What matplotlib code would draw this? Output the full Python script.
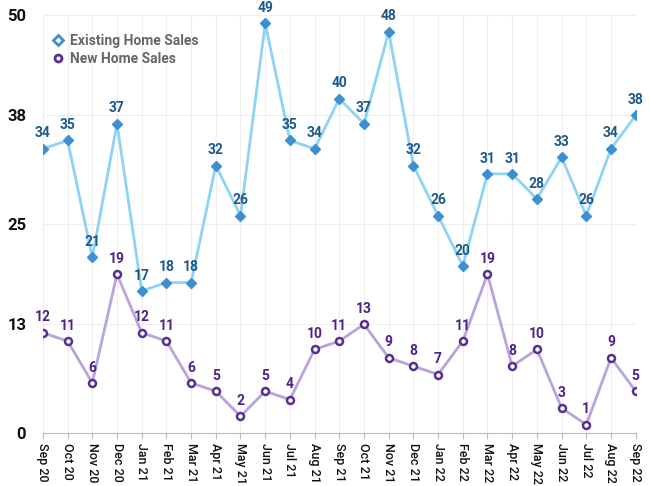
import matplotlib.pyplot as plt

months = ['Sep 20', 'Oct 20', 'Nov 20', 'Dec 20', 'Jan 21', 'Feb 21', 'Mar 21', 'Apr 21',
          'May 21', 'Jun 21', 'Jul 21', 'Aug 21', 'Sep 21', 'Oct 21', 'Nov 21', 'Dec 21',
          'Jan 22', 'Feb 22', 'Mar 22', 'Apr 22', 'May 22', 'Jun 22', 'Jul 22', 'Aug 22', 'Sep 22']
existing = [34, 35, 21, 37, 17, 18, 18, 32, 26, 49, 35, 34, 40, 37, 48, 32, 26, 20, 31, 31, 28, 33, 26, 34, 38]
new_sales = [12, 11, 6, 19, 12, 11, 6, 5, 2, 5, 4, 10, 11, 13, 9, 8, 7, 11, 19, 8, 10, 3, 1, 9, 5]
yticks = [0, 13, 25, 38, 50]

plt.rcParams['font.family'] = ['Roboto', 'DejaVu Sans']

fig = plt.figure(figsize=(6.5, 4.86), dpi=100)
ax = fig.add_axes([0.066, 0.109, 0.912, 0.86])
x = list(range(len(months)))

ax.plot(x, existing, color='#8fd3f4', lw=2, zorder=2)
ax.plot(x, existing, ls='none', marker='D', ms=5.5, color='#3d8fd4', zorder=3)
ax.plot(x, new_sales, color='#b9a3dc', lw=2, zorder=2)
ax.plot(x, new_sales, ls='none', marker='o', ms=5, mfc='white', mec='#5a2d91', mew=1.8, zorder=3)

for i, v in enumerate(existing):
    ax.annotate(str(v), (i, v), xytext=(0, 6), textcoords='offset points', ha='center', va='bottom',
                fontsize=10, fontweight='bold', color='#1e5a87')
for i, v in enumerate(new_sales):
    ax.annotate(str(v), (i, v), xytext=(0, 6), textcoords='offset points', ha='center', va='bottom',
                fontsize=10, fontweight='bold', color='#4e2386')

ax.set_xlim(0, len(months) - 1)
ax.set_ylim(0, 50)
ax.set_yticks(yticks)
ax.set_yticklabels([str(t) for t in yticks], fontsize=12, fontweight='bold', color='#111111')
ax.set_xticks(x)
ax.set_xticklabels(months, rotation=270, fontsize=9, fontweight='medium', color='#111111')
ax.tick_params(axis='y', length=0, pad=12)
ax.tick_params(axis='x', length=4, color='#bbbbbb', pad=3)
ax.grid(True, color='#eeeeee', lw=0.8, zorder=0)
for s in ['top', 'right', 'left']:
    ax.spines[s].set_visible(False)
ax.spines['bottom'].set_color('#bbbbbb')

ax.plot([], [], ls='none', marker='D', ms=5.5, mfc='white', mec='#3d8fd4', mew=2, label='Existing Home Sales')
ax.plot([], [], ls='none', marker='o', ms=5, mfc='white', mec='#5a2d91', mew=2, label='New Home Sales')
handles, labels = ax.get_legend_handles_labels()
leg = ax.legend(handles[-2:], labels[-2:], loc='upper left', bbox_to_anchor=(-0.01, 0.985), frameon=False,
                handletextpad=0.3, labelspacing=0.3, handlelength=1.2)
for t in leg.get_texts():
    t.set_color('#666666')
    t.set_fontweight('bold')
    t.set_fontsize(10)

fig.savefig('out.png', dpi=100)
